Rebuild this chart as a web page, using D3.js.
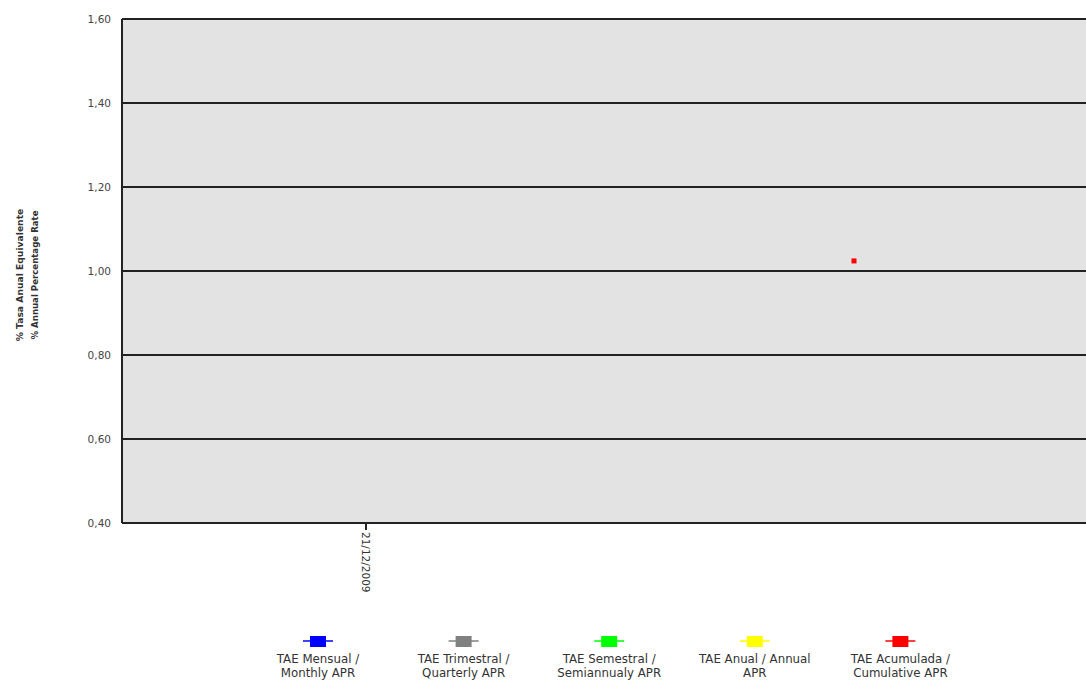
<!DOCTYPE html>
<html>
<head>
<meta charset="utf-8">
<script src="https://cdn.jsdelivr.net/npm/d3@7"></script>
<style>
  body { margin: 0; background: #fff; }
  svg { display: block; font-family: "DejaVu Sans", Verdana, sans-serif; }
</style>
</head>
<body>
<div class="graf"></div>
<script>
// data
const yTicks = [0.40, 0.60, 0.80, 1.00, 1.20, 1.40, 1.60];
const xTickPos = [1];
const xTickLabels = ['21/12/2009'];
const seriesNames = ['TAE Mensual / Monthly APR', 'TAE Trimestral / Quarterly APR',
  'TAE Semestral / Semiannualy APR', 'TAE Anual / Annual APR', 'TAE Acumulada / Cumulative APR'];
const seriesLines = [['TAE Mensual /', 'Monthly APR'], ['TAE Trimestral /', 'Quarterly APR'],
  ['TAE Semestral /', 'Semiannualy APR'], ['TAE Anual / Annual', 'APR'], ['TAE Acumulada /', 'Cumulative APR']];
const seriesColors = ['#0000ff', '#808080', '#00ff00', '#ffff00', '#ff0000'];
const cumulativePos = [3];
const cumulativeVals = [1.024];

main()
function main(){
    let width = 1086, height = 681;
    const margin = {left: 122, top: 19, bottom: 158};

    let svg = d3.select('.graf')
        .append('svg')
        .attr('width', width)
        .attr('height', height);

    // plot runs past the right edge of the picture
    let x = d3.scaleLinear().domain([0, 4]).range([margin.left, margin.left + 976]);
    let y = d3.scaleLinear().domain([0.40, 1.60]).range([height - margin.bottom, margin.top]);

    svg.append('rect')
        .attr('x', margin.left).attr('y', margin.top)
        .attr('width', x(4) - margin.left).attr('height', y(0.40) - y(1.60))
        .attr('fill', '#e3e3e3');

    // grid + y labels
    svg.append('g').selectAll('line')
        .data(yTicks)
        .join('line')
        .attr('x1', margin.left).attr('x2', x(4))
        .attr('y1', d => y(d)).attr('y2', d => y(d))
        .attr('stroke', '#222').attr('stroke-width', 2);

    svg.append('g').selectAll('text')
        .data(yTicks)
        .join('text')
        .attr('x', 111).attr('y', d => y(d) + 4)
        .attr('text-anchor', 'end')
        .attr('font-size', 10.5).attr('fill', '#444')
        .text(d => d.toFixed(2).replace('.', ','));

    svg.append('line')
        .attr('x1', margin.left).attr('x2', margin.left)
        .attr('y1', y(1.60)).attr('y2', y(0.40))
        .attr('stroke', '#222').attr('stroke-width', 2);

    // x tick
    let xt = svg.append('g').selectAll('g')
        .data(xTickPos)
        .join('g')
        .attr('transform', d => `translate(${x(d)},${y(0.40)})`);
    xt.append('line').attr('y1', 0).attr('y2', 7).attr('stroke', '#222').attr('stroke-width', 2);
    xt.append('text')
        .attr('transform', 'translate(-4,9) rotate(90)')
        .attr('font-size', 10.5).attr('fill', '#333')
        .text((d, i) => xTickLabels[i]);

    // y title
    let yt = svg.append('text')
        .attr('transform', `translate(23,${y(1.0) + 4}) rotate(-90)`)
        .attr('text-anchor', 'middle')
        .attr('font-size', 9.2).attr('font-weight', 'bold').attr('fill', '#333');
    yt.append('tspan').attr('x', 0).attr('dy', 0).text('% Tasa Anual Equivalente');
    yt.append('tspan').attr('x', 0).attr('dy', 15).attr('font-size', 8.6).text('% Annual Percentage Rate');

    // cumulative point
    svg.append('g').selectAll('rect')
        .data(cumulativeVals)
        .join('rect')
        .attr('x', (d, i) => x(cumulativePos[i]) - 2.5)
        .attr('y', d => y(d) - 2.5)
        .attr('width', 5).attr('height', 5)
        .attr('fill', '#ff0000');

    // legend
    let lg = svg.append('g').selectAll('g')
        .data(seriesNames)
        .join('g')
        .attr('transform', (d, i) => `translate(${318 + i * 145.6},641)`);
    lg.append('line')
        .attr('x1', -15).attr('x2', 15)
        .attr('stroke', (d, i) => seriesColors[i]).attr('stroke-width', 1.5);
    lg.append('rect')
        .attr('x', -8).attr('y', -5).attr('width', 16).attr('height', 11)
        .attr('fill', (d, i) => seriesColors[i]);
    lg.append('text')
        .attr('text-anchor', 'middle')
        .attr('font-size', 11.8).attr('fill', '#333')
        .selectAll('tspan')
        .data((d, i) => seriesLines[i])
        .join('tspan')
        .attr('x', 0).attr('y', (d, j) => 22 + j * 14)
        .text(d => d);
}
</script>
</body>
</html>
